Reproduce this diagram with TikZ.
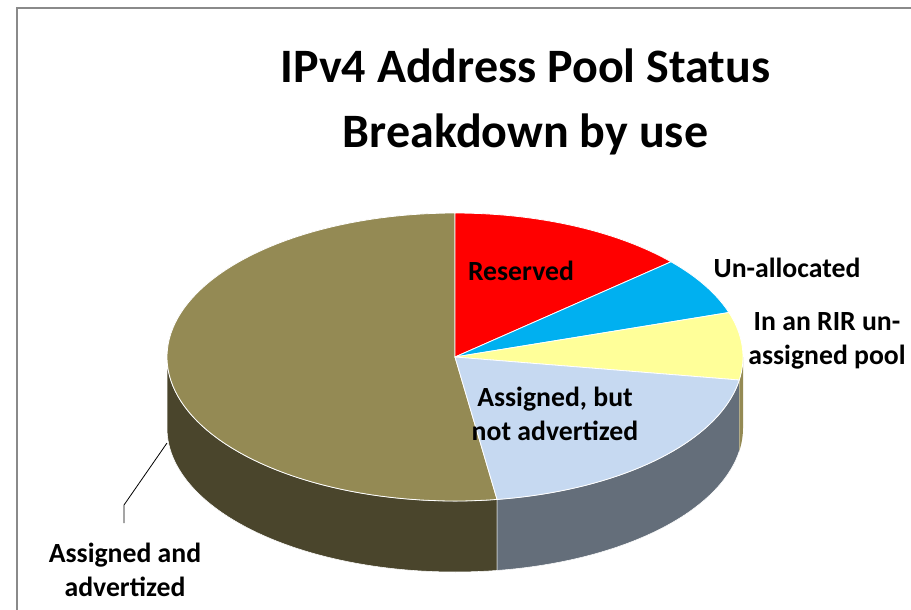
\documentclass[tikz,border=0pt]{standalone}
\usepackage{fontspec}
\setmainfont{Carlito}
\definecolor{framegray}{HTML}{8A8A8A}
\definecolor{olivetop}{HTML}{948A54}
\definecolor{oliveside}{HTML}{4A452C}
\definecolor{resred}{HTML}{FF0000}
\definecolor{unblue}{HTML}{00B0F0}
\definecolor{riryellow}{HTML}{FFFF99}
\definecolor{asglight}{HTML}{C6D9F1}
\definecolor{asgside}{HTML}{646E7A}
% pie geometry (one unit = one pixel, y grows downward)
\def\pcx{455}
\def\pcy{357}
\def\prx{288}
\def\pry{144}
\def\pbot{428}
\tikzset{
  slice/.style={draw=white, line width=0.6pt, line join=round},
  wall/.style={draw=white, line width=0.4pt, line join=round},
  lbl/.style={font=\bfseries\fontsize{20.8}{25.5}\selectfont, align=center, inner sep=0pt},
  ttl/.style={font=\bfseries\fontsize{36}{48.75}\selectfont, align=center, inner sep=0pt},
  leader/.style={draw=black, line width=0.6pt}
}
\begin{document}
\begin{tikzpicture}[x=0.75pt,y=-0.75pt]
\useasboundingbox (0,0) rectangle (911,610);
\fill[white] (0,0) rectangle (911,610);
% frame of the chart area
\draw[framegray, line width=1.5pt] (16.5,610) -- (16.5,8.5) -- (911,8.5);

\coordinate (ctr) at (\pcx,\pcy);

% side walls of the front half
\path[wall, fill=oliveside]
  plot[domain=180:278.4, samples=60] ({\pcx+\prx*cos(\x)},{\pcy-\pry*sin(\x)})
  -- plot[domain=278.4:180, samples=60] ({\pcx+\prx*cos(\x)},{\pbot-\pry*sin(\x)}) -- cycle;
\path[wall, fill=asgside]
  plot[domain=278.4:350.8, samples=40] ({\pcx+\prx*cos(\x)},{\pcy-\pry*sin(\x)})
  -- plot[domain=350.8:278.4, samples=40] ({\pcx+\prx*cos(\x)},{\pbot-\pry*sin(\x)}) -- cycle;
\path[fill=olivetop]
  plot[domain=350.8:360, samples=10] ({\pcx+\prx*cos(\x)},{\pcy-\pry*sin(\x)})
  -- plot[domain=360:350.8, samples=10] ({\pcx+\prx*cos(\x)},{\pbot-\pry*sin(\x)}) -- cycle;

% top faces of the slices
\path[slice, fill=olivetop] (ctr)
  -- plot[domain=-81.6:-270, samples=90] ({\pcx+\prx*cos(\x)},{\pcy-\pry*sin(\x)}) -- cycle;
\path[slice, fill=resred] (ctr)
  -- plot[domain=90:41.4, samples=30] ({\pcx+\prx*cos(\x)},{\pcy-\pry*sin(\x)}) -- cycle;
\path[slice, fill=unblue] (ctr)
  -- plot[domain=41.4:18, samples=20] ({\pcx+\prx*cos(\x)},{\pcy-\pry*sin(\x)}) -- cycle;
\path[slice, fill=riryellow] (ctr)
  -- plot[domain=18:-9.2, samples=20] ({\pcx+\prx*cos(\x)},{\pcy-\pry*sin(\x)}) -- cycle;
\path[slice, fill=asglight] (ctr)
  -- plot[domain=-9.2:-81.6, samples=40] ({\pcx+\prx*cos(\x)},{\pcy-\pry*sin(\x)}) -- cycle;

% title
\node[ttl] (title) at (525.5,102) {IPv4 Address Pool Status\\Breakdown by use};

% slice labels
\node[lbl] (reserved) at (521,271) {Reserved};
\node[lbl] (unalloc) at (787,268) {Un-allocated};
\node[lbl] (rirpool) at (827,341) {In an RIR un-\\assigned pool};
\node[lbl] (notadv) at (555,414) {Assigned, but\\not advertized};
\node[lbl] (adv) at (125,570) {Assigned and\\advertized};

% leader from the olive slice to its label
\coordinate (edgept) at (167,443);
\coordinate (knee) at (124,505);
\coordinate (leadend) at (124,523);
\draw[leader] (edgept) -- (knee) -- (leadend);
\end{tikzpicture}
\end{document}
